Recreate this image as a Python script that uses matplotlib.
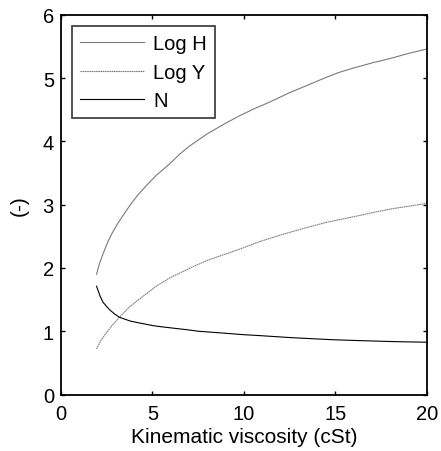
import matplotlib

matplotlib.use("Agg")

import matplotlib.pyplot as plt

plt.rcParams["font.family"] = ["Liberation Sans", "DejaVu Sans"]

# values
log_h_x = [1.95, 2.1, 2.3, 2.55, 2.8, 3.1, 3.4, 3.8, 4.2, 4.7, 5.2, 5.6, 6.0, 6.5, 7.0, 7.5, 8.0,
           8.9, 9.8, 10.6, 11.4, 12.5, 13.5, 14.4, 15.2, 16.0, 17.0, 18.0, 19.0, 20.0]
log_h_y = [1.90, 2.06, 2.22, 2.40, 2.55, 2.70, 2.83, 3.00, 3.15, 3.31, 3.46, 3.56, 3.66, 3.80, 3.92,
           4.02, 4.12, 4.27, 4.41, 4.52, 4.62, 4.77, 4.89, 5.00, 5.09, 5.16, 5.24, 5.31, 5.39, 5.46]

log_y_x = [1.95, 2.2, 2.5, 2.8, 3.2, 3.7, 4.3, 4.8, 5.2, 6.0, 7.0, 8.0, 9.0, 9.8, 10.9, 12.0,
           13.2, 14.5, 15.5, 16.5, 17.3, 18.2, 19.1, 20.0]
log_y_y = [0.72, 0.86, 0.98, 1.09, 1.22, 1.37, 1.51, 1.62, 1.71, 1.85, 1.99, 2.12, 2.22, 2.30,
           2.42, 2.52, 2.62, 2.72, 2.78, 2.84, 2.89, 2.94, 2.98, 3.02]

n_x = [1.95, 2.05, 2.15, 2.3, 2.5, 2.7, 2.95, 3.2, 3.5, 3.8, 4.3, 5.0, 5.5, 6.1, 7.0, 7.5,
       8.9, 10.0, 10.9, 12.5, 13.5, 14.9, 16.5, 18.3, 20.0]
n_y = [1.71, 1.63, 1.55, 1.46, 1.39, 1.33, 1.27, 1.22, 1.19, 1.16, 1.13, 1.09, 1.07, 1.05, 1.02,
       1.00, 0.97, 0.945, 0.93, 0.90, 0.885, 0.865, 0.85, 0.835, 0.826]

x_ticks = [0, 5, 10, 15, 20]
y_ticks = [0, 1, 2, 3, 4, 5, 6]


def main() -> None:
    fig = plt.figure(figsize=(4.41, 4.52), dpi=100)
    ax = fig.add_axes([0.138, 0.125, 0.83, 0.84])

    ax.plot(log_h_x, log_h_y, color="#7a7a7a", linewidth=0.8, label="Log H")
    ax.plot(log_y_x, log_y_y, color="#7f7f7f", linewidth=0.8,
            linestyle=(0, (1.5, 0.5)), label="Log Y")
    ax.plot(n_x, n_y, color="black", linewidth=0.8, label="N")

    ax.set_xlim(0, 20)
    ax.set_ylim(0, 6)
    ax.set_xticks(x_ticks)
    ax.set_yticks(y_ticks)
    ax.tick_params(direction="in", length=3, width=1, labelsize=14.5,
                   top=True, right=True, pad=5)
    ax.tick_params(axis="x", pad=7)
    for spine in ax.spines.values():
        spine.set_linewidth(1.3)

    ax.set_xlabel("Kinematic viscosity (cSt)", fontsize=15, labelpad=3)
    ax.set_ylabel("(-)", fontsize=15, labelpad=10)

    leg = ax.legend(loc="upper left", fontsize=14.5, frameon=True, fancybox=False,
                    edgecolor="black", borderpad=0.4, handlelength=3.2,
                    handletextpad=0.45, labelspacing=0.48, borderaxespad=0.55)
    leg.get_frame().set_linewidth(1.2)

    fig.savefig("out.png", dpi=100)
    plt.close(fig)


if __name__ == "__main__":
    main()
